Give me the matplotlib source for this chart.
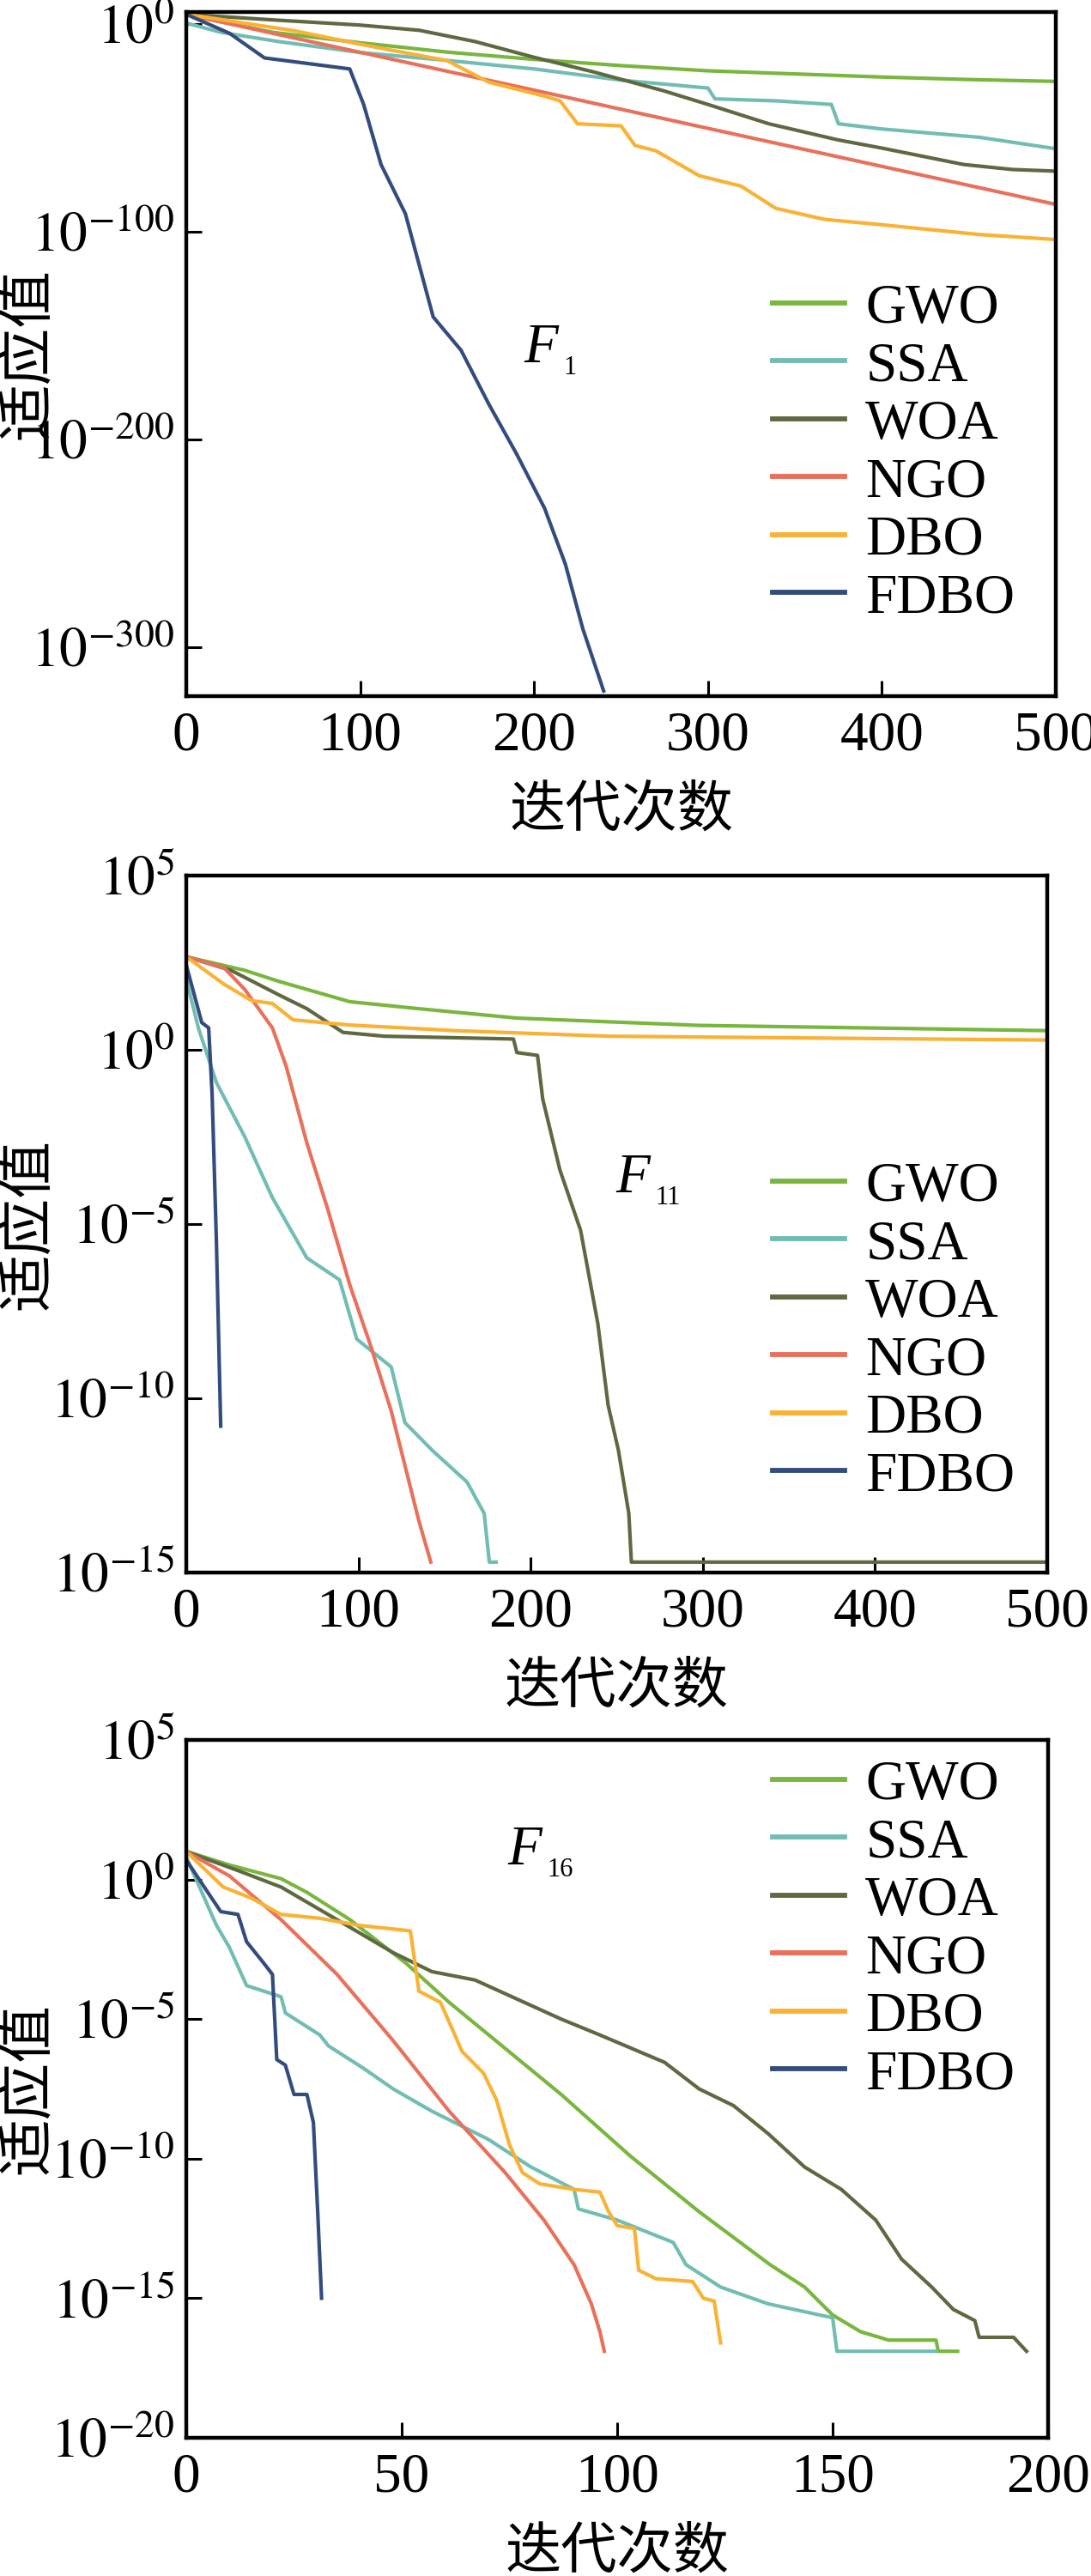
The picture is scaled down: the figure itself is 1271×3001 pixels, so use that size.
import matplotlib
matplotlib.use('Agg')
import matplotlib.pyplot as plt
from matplotlib.ticker import FixedLocator, FuncFormatter

plt.rcParams['font.family'] = ['Liberation Serif', 'Noto Sans CJK SC', 'DejaVu Sans']
plt.rcParams['mathtext.fontset'] = 'stix'

names = ['GWO', 'SSA', 'WOA', 'NGO', 'DBO', 'FDBO']
colors = ['#79b63e', '#72bdb3', '#5e6941', '#e9705a', '#f9b233', '#334c7e']

# values are log10 of the fitness
# ---- F1 ----
f1_gwo_x = [0, 50, 100, 150, 200, 250, 300, 350, 400, 450, 500]
f1_gwo_y = [4.5, -4, -9, -13.5, -17, -20, -22.5, -24, -25.5, -26.7, -27.6]
f1_ssa_x = [0, 20, 53, 100, 150, 200, 250, 300, 304, 340, 371, 375, 400, 456, 500]
f1_ssa_y = [0.5, -4, -8.4, -13.7, -17.5, -21.6, -27, -30.8, -36, -37, -38.7, -48, -50.5, -54.5, -60]
f1_woa_x = [0, 50, 100, 134, 166, 200, 234, 274, 300, 335, 375, 400, 447, 475, 500]
f1_woa_y = [4.7, 2, -0.5, -3, -8.4, -16, -23, -32, -38.7, -48, -55.8, -59.7, -67.6, -70, -70.8]
f1_ngo_x = [0, 50, 100, 200, 300, 400, 500]
f1_ngo_y = [4.7, -4.5, -13.6, -31.8, -50.2, -68.5, -86.8]
f1_dbo_x = [0, 62, 100, 150, 174, 206, 215, 225, 250, 258, 270, 295, 319, 339, 367, 400, 456, 500]
f1_dbo_y = [4.7, -3.2, -9.7, -17.6, -28, -34.7, -37, -48, -49, -58.4, -61, -73, -78, -88.7, -94, -96.6, -101.3, -103.7]
f1_fdbo_x = [0, 25, 45, 70, 94, 102, 112, 126, 142, 158, 174, 190, 206, 218, 228, 240]
f1_fdbo_y = [4.7, -4.5, -16.3, -19, -21.6, -38.7, -67.6, -91.3, -141, -157, -183, -207, -233, -260, -291, -321]

# ---- F11 ----
f11_gwo_x = [0, 34, 54, 95, 135, 192, 257, 298, 500]
f11_gwo_y = [2.67, 2.28, 1.96, 1.38, 1.18, 0.91, 0.78, 0.70, 0.55]
f11_ssa_x = [0, 7, 17.5, 34, 50, 70, 89, 99, 119, 127, 143, 163, 173, 176, 180]
f11_ssa_y = [2.04, 0.63, -0.94, -2.5, -4.24, -5.97, -6.6, -8.3, -9.1, -10.7, -11.5, -12.4, -13.3, -14.7, -14.7]
f11_woa_x = [0, 26, 54, 70, 91, 115, 190, 192, 204, 207, 217, 229, 239, 245, 251, 257, 258.5, 500]
f11_woa_y = [2.67, 2.28, 1.57, 1.18, 0.5, 0.39, 0.31, -0.08, -0.16, -1.41, -3.45, -5.18, -7.85, -10.2, -11.5, -13.3, -14.7, -14.7]
f11_ngo_x = [0, 22, 34, 50, 58, 70, 82, 95, 107, 119, 127, 135, 142]
f11_ngo_y = [2.67, 2.35, 1.73, 0.63, -0.47, -2.67, -4.55, -6.75, -8.48, -10.36, -11.93, -13.5, -14.7]
f11_dbo_x = [0, 22, 38, 50, 62, 95, 156, 245, 500]
f11_dbo_y = [2.67, 1.88, 1.41, 1.33, 0.86, 0.71, 0.55, 0.39, 0.28]
f11_fdbo_x = [0, 9, 13, 15, 17.5, 20]
f11_fdbo_y = [2.43, 0.78, 0.63, -1.26, -5.5, -10.8]

# ---- F16 ----
f16_gwo_x = [0, 10, 22, 28, 38, 51, 61, 87, 103, 119, 135.5, 143.5, 150, 156.5, 163, 174, 174.5, 179]
f16_gwo_y = [1.01, 0.52, 0.03, -0.46, -1.44, -3.0, -4.4, -7.7, -9.9, -11.9, -13.8, -14.6, -15.6, -16.2, -16.5, -16.5, -16.9, -16.9]
f16_ssa_x = [0, 7, 10, 14, 22, 23, 31, 33, 41, 48, 57, 70, 80, 90, 91, 100, 113, 116, 124, 135, 150, 151, 174]
f16_ssa_y = [0.8, -1.64, -2.43, -3.8, -4.2, -4.78, -5.57, -5.96, -6.75, -7.5, -8.3, -9.3, -10.3, -11.1, -11.8, -12.2, -13.0, -13.8, -14.6, -15.2, -15.7, -16.9, -16.9]
f16_woa_x = [0, 12, 22, 35, 48, 57, 67, 77, 87, 96, 111, 119, 127, 135, 143.5, 152, 160, 166, 173, 178, 183, 184, 192, 195]
f16_woa_y = [1.0, 0.32, -0.27, -1.44, -2.62, -3.3, -3.6, -4.3, -5.0, -5.57, -6.55, -7.5, -8.1, -9.1, -10.3, -11.1, -12.2, -13.6, -14.6, -15.4, -15.8, -16.4, -16.4, -16.9]
f16_ngo_x = [0, 10, 22, 35, 48, 61, 74, 83, 90, 94, 96, 97]
f16_ngo_y = [1.0, 0.13, -1.44, -3.4, -5.77, -8.3, -10.5, -12.2, -13.8, -15.2, -16.2, -16.9]
f16_dbo_x = [0, 8.6, 15, 22, 31, 40, 52, 54, 59, 64, 69, 72, 75, 78, 82, 90, 96, 98, 100, 104, 105, 109, 117.5, 120, 122.5, 124]
f16_dbo_y = [1.0, -0.27, -0.66, -1.25, -1.39, -1.64, -1.84, -4.0, -4.4, -6.16, -6.94, -7.9, -9.5, -10.5, -10.9, -11.1, -11.2, -11.9, -12.4, -12.5, -14.0, -14.3, -14.4, -15.0, -15.1, -16.6]
f16_fdbo_x = [0, 5, 8, 12, 14, 18, 20, 21, 23, 25, 28, 29.5, 30.5, 31.4]
f16_fdbo_y = [0.7, -0.46, -1.15, -1.25, -2.23, -3.0, -3.4, -6.45, -6.65, -7.7, -7.7, -8.7, -11.9, -15.0]

panels = [
    dict(series=[(f1_gwo_x, f1_gwo_y), (f1_ssa_x, f1_ssa_y), (f1_woa_x, f1_woa_y),
                 (f1_ngo_x, f1_ngo_y), (f1_dbo_x, f1_dbo_y), (f1_fdbo_x, f1_fdbo_y)],
         box=(217, 14, 1230, 811), xlim=(0, 500), xticks=[0, 100, 200, 300, 400, 500],
         ylim=(-323.5, 5.8), yticks=[0, -100, -200, -300],
         tag=('1', 610, 422), leg_top=330),
    dict(series=[(f11_gwo_x, f11_gwo_y), (f11_ssa_x, f11_ssa_y), (f11_woa_x, f11_woa_y),
                 (f11_ngo_x, f11_ngo_y), (f11_dbo_x, f11_dbo_y), (f11_fdbo_x, f11_fdbo_y)],
         box=(217, 1020, 1220, 1832), xlim=(0, 500), xticks=[0, 100, 200, 300, 400, 500],
         ylim=(-15, 5), yticks=[5, 0, -5, -10, -15],
         tag=('11', 717, 1389), leg_top=1353),
    dict(series=[(f16_gwo_x, f16_gwo_y), (f16_ssa_x, f16_ssa_y), (f16_woa_x, f16_woa_y),
                 (f16_ngo_x, f16_ngo_y), (f16_dbo_x, f16_dbo_y), (f16_fdbo_x, f16_fdbo_y)],
         box=(217, 2027, 1221, 2840), xlim=(0, 200), xticks=[0, 50, 100, 150, 200],
         ylim=(-20, 5), yticks=[5, 0, -5, -10, -15, -20],
         tag=('16', 591, 2172), leg_top=2050),
]

W, H = 1271, 3001
fig = plt.figure(figsize=(W / 100, H / 100), dpi=100)

fs = 47
for p in panels:
    l, t, r, b = p['box']
    ax = fig.add_axes([l / W, 1 - b / H, (r - l) / W, (b - t) / H])
    for (xs, ys), name, c in zip(p['series'], names, colors):
        ax.plot(xs, ys, color=c, lw=3.0, label=name)
    ax.set_xlim(*p['xlim'])
    ax.set_ylim(*p['ylim'])
    ax.xaxis.set_major_locator(FixedLocator(p['xticks']))
    ax.yaxis.set_major_locator(FixedLocator(p['yticks']))
    ax.yaxis.set_major_formatter(FuncFormatter(lambda v, pos: r'$10^{%d}$' % round(v)))
    ax.tick_params(direction='in', length=13, width=2.2, labelsize=fs,
                   top=False, right=False)
    ax.tick_params(axis='x', pad=12)
    ax.tick_params(axis='y', pad=10)
    for s in ax.spines.values():
        s.set_linewidth(3.2)

    ax.set_xlabel('迭代次数', fontsize=fs, family=['Noto Sans CJK SC'])
    ax.xaxis.set_label_coords(0.5, -(944 - 811) / (b - t) - 0.0)
    ax.xaxis.label.set_va('center')
    ax.set_ylabel('适应值', fontsize=48, family=['Noto Sans CJK SC'])
    ax.yaxis.set_label_coords((33 - l) / (r - l), 0.5)
    ax.yaxis.label.set_va('center')

    leg = ax.legend(loc='upper left', frameon=False, fontsize=fs,
                    bbox_to_anchor=((900 - l) / (r - l), 1 - (p['leg_top'] - t) / (b - t)),
                    borderpad=0, borderaxespad=0, handlelength=1.29,
                    handletextpad=0.37, labelspacing=0.12)
    for h in leg.get_lines():
        h.set_linewidth(4.2)

    sub, tx, ty = p['tag']
    fig.text(tx / W, 1 - ty / H, 'F', fontsize=fs, style='italic',
             family=['Liberation Serif'], ha='left', va='baseline')
    fig.text((tx + 46) / W, 1 - (ty + 14) / H, sub, fontsize=22,
             family=['Liberation Serif'], ha='left', va='baseline')

fig.savefig('out.png', dpi=100)
